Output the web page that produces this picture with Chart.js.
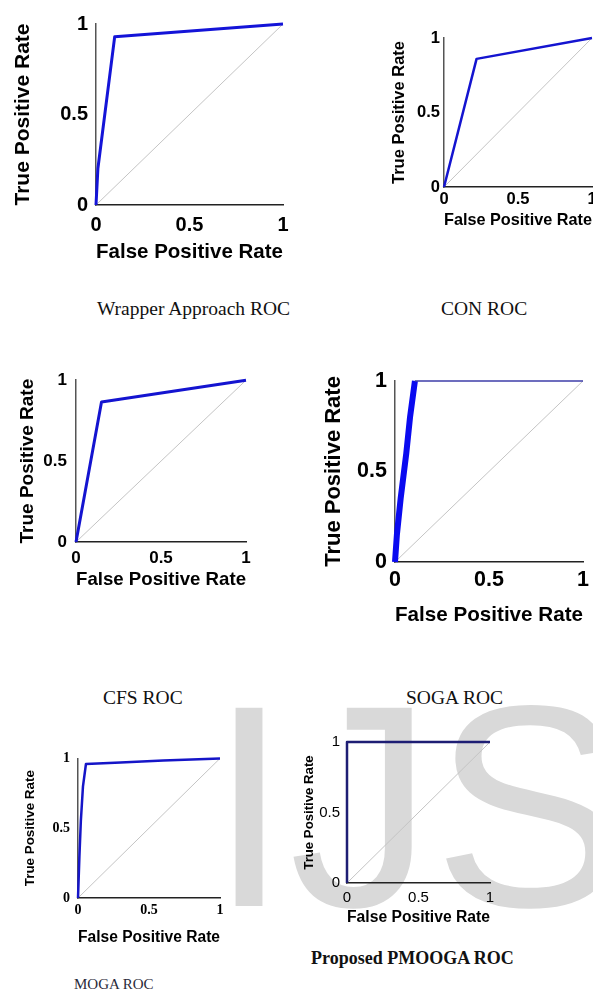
<!DOCTYPE html>
<html>
<head>
<meta charset="utf-8">
<script src="https://cdn.jsdelivr.net/npm/chart.js@4.4.1/dist/chart.umd.min.js"></script>
<style>
  html, body { margin:0; padding:0; background:#fff; width:593px; height:994px; overflow:hidden; position:relative; }
  canvas { position:absolute; }
  .cap { position:absolute; font-family:"Liberation Serif","Times New Roman",serif; line-height:1; white-space:nowrap; color:#111; font-size:19.5px; }
  #mark { position:absolute; left:209px; top:662px; font-family:"Liberation Sans",Arial,sans-serif; font-size:288px; line-height:1; color:#d9d9d9; white-space:nowrap; }
</style>
</head>
<body>
<div id="mark">IJS</div>

<canvas id="wrapper"></canvas>
<canvas id="con"></canvas>
<canvas id="cfs"></canvas>
<canvas id="soga"></canvas>
<canvas id="moga"></canvas>
<canvas id="pmooga"></canvas>

<div class="cap" style="left:97px;top:299px;">Wrapper Approach ROC</div>
<div class="cap" style="left:441px;top:299px;">CON ROC</div>
<div class="cap" style="left:103px;top:688px;">CFS ROC</div>
<div class="cap" style="left:406px;top:688px;">SOGA ROC</div>
<div class="cap" style="left:74px;top:977px;font-size:15px;color:#2a2a3a;">MOGA ROC</div>
<div class="cap" style="left:311px;top:949px;font-size:18px;font-weight:bold;">Proposed PMOOGA ROC</div>

<script>
// ROC curves: false positive rate / true positive rate
var wrapperFpr = [0, 0.01, 0.1, 1];
var wrapperTpr = [0, 0.2, 0.93, 1];

var conFpr = [0, 0.22, 1];
var conTpr = [0, 0.86, 1];

var cfsFpr = [0, 0.15, 1];
var cfsTpr = [0, 0.865, 1];

var sogaFpr = [0, 0.01, 0.03, 0.06, 0.08, 0.106, 1];
var sogaTpr = [0, 0.15, 0.35, 0.6, 0.8, 1, 1];

var mogaFpr = [0, 0.01, 0.02, 0.035, 0.056, 0.3, 0.6, 1];
var mogaTpr = [0, 0.3, 0.55, 0.8, 0.96, 0.97, 0.985, 1];

var pmoogaFpr = [0, 0, 1];
var pmoogaTpr = [0, 1, 1];

var chanceLine = [0, 1];
var tickValues = [0, 0.5, 1];
var xTitle = 'False Positive Rate';
var yTitle = 'True Positive Rate';

var sans = '"Liberation Sans", Arial, sans-serif';
var serif = '"Liberation Serif", "Times New Roman", serif';

function toPoints(xs, ys) {
  return xs.map(function (x, i) { return {x: x, y: ys[i]}; });
}

function fixedTicks(s) {
  s.ticks = tickValues.map(function (v) { return {value: v}; });
}

function drawRoc(id, fpr, tpr, box) {
  var pad = 14;
  var canvas = document.getElementById(id);
  var w = (box.r - box.l) + box.yW + pad;
  var h = (box.b - box.t) + pad + box.xH;
  canvas.width = w;
  canvas.height = h;
  canvas.style.width = w + 'px';
  canvas.style.height = h + 'px';
  canvas.style.left = (box.l - box.yW) + 'px';
  canvas.style.top = (box.t - pad) + 'px';

  var tickFont = {family: box.tickFamily || sans, size: box.tick, weight: box.tickWeight || 'bold', lineHeight: 1.2};
  var label = function (v) { return String(v); };

  var curve = {
    data: toPoints(fpr, tpr),
    showLine: true,
    borderColor: box.color,
    borderWidth: box.width,
    pointRadius: 0,
    clip: false,
    borderJoinStyle: 'round',
    order: 1
  };
  if (box.flatWidth) {
    curve.segment = {
      borderWidth: function (ctx) { return ctx.p0.parsed.y >= 1 ? box.flatWidth : undefined; },
      borderColor: function (ctx) { return ctx.p0.parsed.y >= 1 ? box.flatColor : undefined; }
    };
  }

  new Chart(canvas, {
    type: 'scatter',
    data: {
      datasets: [
        curve,
        {
          data: toPoints(chanceLine, chanceLine),
          showLine: true,
          borderColor: '#c4c4c4',
          borderWidth: 1,
          pointRadius: 0,
          order: 2
        }
      ]
    },
    options: {
      responsive: false,
      animation: false,
      layout: {padding: {top: pad, right: pad, left: 0, bottom: 0}},
      plugins: {legend: {display: false}, tooltip: {enabled: false}},
      scales: {
        x: {
          type: 'linear', min: 0, max: 1,
          afterBuildTicks: fixedTicks,
          afterFit: function (s) { s.height = box.xH; },
          grid: {display: false, drawTicks: false},
          border: {display: true, color: '#222', width: 1.5},
          ticks: {color: '#000', font: tickFont, padding: box.xPad, maxRotation: 0, autoSkip: false, callback: label},
          title: {display: true, text: xTitle, color: '#000', padding: 0,
                  font: {family: sans, size: box.xTitle, weight: 'bold', lineHeight: 1.2}}
        },
        y: {
          type: 'linear', min: 0, max: 1,
          afterBuildTicks: fixedTicks,
          afterFit: function (s) { s.width = box.yW; },
          grid: {display: false, drawTicks: false},
          border: {display: true, color: '#555', width: 1.5},
          ticks: {color: '#000', font: tickFont, padding: box.yPad, autoSkip: false, callback: label},
          title: {display: true, text: yTitle, color: '#000', padding: 0,
                  font: {family: sans, size: box.yTitle, weight: 'bold', lineHeight: 1.2}}
        }
      }
    }
  });
}

drawRoc('wrapper', wrapperFpr, wrapperTpr,
  {l: 96, t: 18, r: 283, b: 205, yW: 85, xH: 60, tick: 20, xTitle: 21, yTitle: 21, yPad: 8, xPad: 8, color: '#1414d8', width: 3});
drawRoc('con', conFpr, conTpr,
  {l: 444, t: 38, r: 592, b: 187, yW: 54, xH: 43, tick: 16.5, xTitle: 16.5, yTitle: 16.5, yPad: 4, xPad: 3, color: '#1414d0', width: 2.5});
drawRoc('cfs', cfsFpr, cfsTpr,
  {l: 76, t: 375, r: 246, b: 542, yW: 60, xH: 49, tick: 17, xTitle: 19, yTitle: 19, yPad: 9, xPad: 6, color: '#1414d0', width: 3});
drawRoc('soga', sogaFpr, sogaTpr,
  {l: 395, t: 374, r: 583, b: 562, yW: 74, xH: 66, tick: 21.5, xTitle: 21, yTitle: 22, yPad: 8, xPad: 5, color: '#0a0af0', width: 6, flatWidth: 1.5, flatColor: '#3c3ca8'});
drawRoc('moga', mogaFpr, mogaTpr,
  {l: 78, t: 756, r: 220, b: 898, yW: 56, xH: 49, tick: 14, tickFamily: serif, xTitle: 16, yTitle: 13.4, yPad: 8, xPad: 4, color: '#1515c8', width: 2.5});
drawRoc('pmooga', pmoogaFpr, pmoogaTpr,
  {l: 347, t: 740, r: 490, b: 883, yW: 46, xH: 44, tick: 15, tickWeight: 'normal', xTitle: 16, yTitle: 13.2, yPad: 7, xPad: 6, color: '#1e1e74', width: 2.5});
</script>
</body>
</html>
